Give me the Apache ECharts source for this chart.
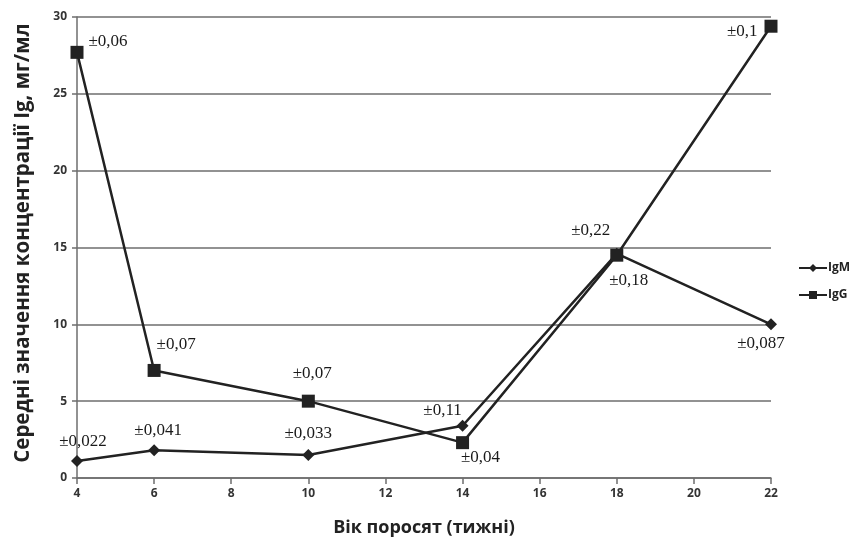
<!DOCTYPE html>
<html>
<head>
<meta charset="utf-8">
<script src="https://cdn.jsdelivr.net/npm/echarts@6/dist/echarts.min.js"></script>
<style>
  html, body { margin: 0; padding: 0; background: #fff; }
  #chart { width: 854px; height: 539px; }
</style>
</head>
<body>
<div id="chart"></div>
<script>
// Age of piglets (weeks)
const weeks = [4, 6, 10, 14, 18, 22];
// Mean Ig concentrations, mg/ml
const igM = [1.1, 1.8, 1.5, 3.4, 14.6, 10.0];
const igG = [27.7, 7.0, 5.0, 2.3, 14.5, 29.4];
// Standard error labels
const igMErr = ['±0,022', '±0,041', '±0,033', '±0,11', '±0,22', '±0,087'];
const igGErr = ['±0,06', '±0,07', '±0,07', '±0,04', '±0,18', '±0,1'];
// Y axis ticks
const yTicks = [0, 5, 10, 15, 20, 25, 30];
const yTitle = 'Середні значення концентрації Ig, мг/мл';
const xTitle = 'Вік поросят (тижні)';

// label placement per point: [position, offsetX, offsetY]
const igMLabelPos = [
  ['top', 6, 0], ['top', 4, 0], ['top', 0, -2],
  ['top', -20, 4], ['top', -26, -4], ['bottom', -10, 0]
];
const igGLabelPos = [
  ['right', 0, -11], ['top', 22, -6], ['top', 4, -8],
  ['bottom', 18, -5], ['bottom', 12, 5], ['left', -2, 5]
];

const labelFont = {
  fontFamily: '"Liberation Serif", "DejaVu Serif", serif',
  fontSize: 17,
  color: '#1a1a1a'
};

function buildData(vals, errs, pos) {
  return vals.map((v, i) => ({
    value: [weeks[i], v],
    label: {
      show: true,
      formatter: errs[i],
      position: pos[i][0],
      offset: [pos[i][1], pos[i][2]],
      ...labelFont
    }
  }));
}

const chart = echarts.init(document.getElementById('chart'));
chart.setOption({
  animation: false,
  backgroundColor: '#fff',
  grid: { left: 77, right: 83, top: 17, bottom: 61, containLabel: false, outerBoundsMode: 'none' },
  graphic: [{
    type: 'text',
    x: 23,
    y: 243,
    rotation: Math.PI / 2,
    style: {
      text: yTitle,
      align: 'center',
      verticalAlign: 'middle',
      fontFamily: '"Open Sans", sans-serif',
      fontWeight: 'bold',
      fontSize: 20.5,
      fill: '#222'
    }
  }],
  legend: {
    orient: 'vertical',
    left: 793,
    top: 257,
    itemWidth: 28,
    itemHeight: 10,
    itemGap: 15,
    textStyle: {
      fontFamily: '"Open Sans", sans-serif',
      fontWeight: 'bold',
      fontSize: 12,
      color: '#222',
      padding: [0, 0, 0, -4]
    },
    data: ['IgM', 'IgG']
  },
  xAxis: {
    type: 'value',
    min: 4,
    max: 22,
    interval: 2,
    name: xTitle,
    nameLocation: 'middle',
    nameGap: 41,
    nameTextStyle: {
      fontFamily: '"Open Sans", sans-serif',
      fontWeight: 'bold',
      fontSize: 18,
      color: '#222'
    },
    axisLine: { lineStyle: { color: '#6e6e6e', width: 1.5 } },
    axisTick: { show: true, length: 6, lineStyle: { color: '#6e6e6e', width: 1.5 } },
    axisLabel: {
      margin: 10,
      fontFamily: '"Open Sans", sans-serif',
      fontWeight: 'bold',
      fontSize: 12,
      color: '#333'
    },
    splitLine: { show: false }
  },
  yAxis: {
    type: 'value',
    min: yTicks[0],
    max: yTicks[yTicks.length - 1],
    interval: yTicks[1] - yTicks[0],
    axisLine: { show: true, lineStyle: { color: '#6e6e6e', width: 1.5 } },
    axisTick: { show: true, length: 5, lineStyle: { color: '#6e6e6e', width: 1.5 } },
    axisLabel: {
      margin: 10,
      fontFamily: '"Open Sans", sans-serif',
      fontWeight: 'bold',
      fontSize: 12,
      color: '#333'
    },
    splitLine: { show: true, lineStyle: { color: '#6e6e6e', width: 1.5 } }
  },
  series: [
    {
      name: 'IgM',
      type: 'line',
      symbol: 'diamond',
      symbolSize: 12,
      lineStyle: { color: '#222', width: 2.5 },
      itemStyle: { color: '#222' },
      data: buildData(igM, igMErr, igMLabelPos),
      z: 3
    },
    {
      name: 'IgG',
      type: 'line',
      symbol: 'rect',
      symbolSize: 13,
      lineStyle: { color: '#222', width: 2.5 },
      itemStyle: { color: '#222' },
      data: buildData(igG, igGErr, igGLabelPos),
      z: 4
    }
  ]
});
</script>
</body>
</html>
